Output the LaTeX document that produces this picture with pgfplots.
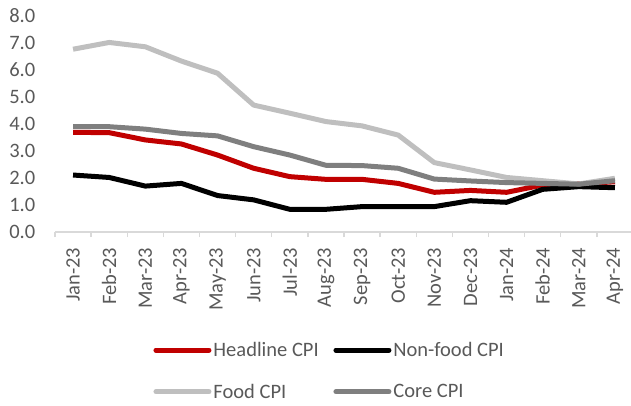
\documentclass[border=0pt]{standalone}
\usepackage{pgfplots}
\pgfplotsset{compat=1.18}
\usepackage{fontspec}
\setmainfont{Carlito}
\definecolor{hred}{HTML}{C00000}
\definecolor{foodg}{HTML}{BFBFBF}
\definecolor{coreg}{HTML}{7F7F7F}
\definecolor{txtg}{HTML}{595959}
\definecolor{axg}{HTML}{D9D9D9}
\begin{document}
\begin{tikzpicture}
\useasboundingbox (0,0) rectangle (631bp,406bp);
\begin{axis}[
  at={(55bp,174bp)}, anchor=south west,
  scale only axis, width=578bp, height=216bp,
  xmin=-0.5, xmax=15.5, ymin=0, ymax=8,
  axis x line*=bottom, axis y line*=left,
  y axis line style={draw=none},
  x axis line style={draw=axg, line width=1.3bp},
  ytick={0,1,...,8},
  ytick style={draw=none},
  xtick={0,...,15},
  xticklabels={Jan-23,Feb-23,Mar-23,Apr-23,May-23,Jun-23,Jul-23,Aug-23,Sep-23,Oct-23,Nov-23,Dec-23,Jan-24,Feb-24,Mar-24,Apr-24},
  major x tick style={draw=none},
  minor xtick={-0.5,0.5,...,15.5},
  minor x tick style={draw=axg, line width=1.3bp},
  minor tick length=5bp,
  tick align=outside,
  xtick pos=bottom,
  /pgf/number format/assume math mode=true,
  yticklabel={\pgfmathprintnumber[fixed,fixed zerofill,precision=1]{\tick}},
  tick label style={font=\fontsize{20.5bp}{24bp}\selectfont, text=txtg},
  yticklabel style={xshift=-12bp},
  xticklabel style={rotate=90, anchor=east, xshift=-8bp},
  legend columns=2,
  legend style={draw=none, fill=none, inner sep=0pt,
    at={(0.17,-0.50)}, anchor=north west,
    font=\fontsize{20.5bp}{24bp}\selectfont, text=txtg,
    row sep=22bp,
    /tikz/every even column/.append style={column sep=0bp}},
  legend cell align=left,
  legend image code/.code={\draw[#1, line width=5bp, line cap=round] (0bp,0bp) -- (53bp,0bp);},
  every axis plot/.append style={line width=5bp, line join=round, mark=none},
]
\addplot[hred] coordinates {(0,3.69)(1,3.68)(2,3.41)(3,3.26)(4,2.85)(5,2.36)(6,2.05)(7,1.95)(8,1.95)(9,1.80)(10,1.47)(11,1.54)(12,1.47)(13,1.74)(14,1.78)(15,1.86)};
\addlegendentry{\makebox[118bp][l]{Headline CPI}}
\addplot[black] coordinates {(0,2.11)(1,2.02)(2,1.70)(3,1.80)(4,1.35)(5,1.19)(6,0.84)(7,0.84)(8,0.94)(9,0.94)(10,0.94)(11,1.16)(12,1.10)(13,1.58)(14,1.68)(15,1.64)};
\addlegendentry{Non-food CPI}
\addplot[foodg] coordinates {(0,6.77)(1,7.02)(2,6.86)(3,6.33)(4,5.88)(5,4.70)(6,4.40)(7,4.09)(8,3.93)(9,3.59)(10,2.57)(11,2.30)(12,2.02)(13,1.90)(14,1.78)(15,1.99)};
\addlegendentry{\makebox[118bp][l]{Food CPI}}
\addplot[coreg] coordinates {(0,3.90)(1,3.90)(2,3.81)(3,3.65)(4,3.56)(5,3.16)(6,2.85)(7,2.47)(8,2.46)(9,2.36)(10,1.96)(11,1.89)(12,1.83)(13,1.80)(14,1.77)(15,1.90)};
\addlegendentry{Core CPI}
\end{axis}
\end{tikzpicture}
\end{document}
